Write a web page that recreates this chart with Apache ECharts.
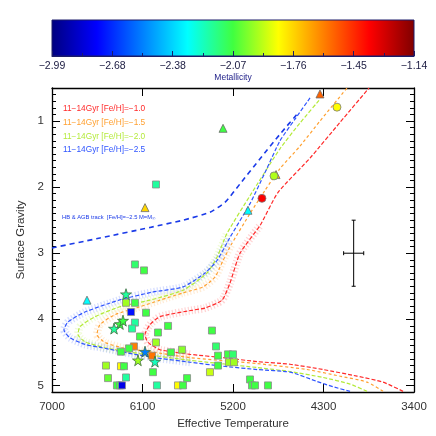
<!DOCTYPE html>
<html><head><meta charset="utf-8">
<script src="https://cdn.jsdelivr.net/npm/echarts@6/dist/echarts.min.js"></script>
<style>html,body{margin:0;padding:0;background:#fff}#c{width:436px;height:436px}</style>
</head><body><div id="c"></div>
<script>
// ---------- data ----------
const tempTicks = [3400, 4300, 5200, 6100, 7000];
const cbLabels = ['-2.99','-2.68','-2.38','-2.07','-1.76','-1.45','-1.14'];
const fehMin = -2.99, fehMax = -1.14;
const isoLabels = ['11\u221214Gyr [Fe/H]=\u22121.0','11\u221214Gyr [Fe/H]=\u22121.5','11\u221214Gyr [Fe/H]=\u22122.0','11\u221214Gyr [Fe/H]=\u22122.5'];

// isochrones [Teff, logg]
const isoRed = [[3509,5.09],[3708,4.95],[3967,4.86],[4305,4.76],[4633,4.68],[4961,4.64],[5299,4.58],[5628,4.53],[5926,4.46],[6045,4.35],[6075,4.23],[6025,4.08],[5926,3.96],[5598,3.86],[5478,3.83],[5309,3.71],[5230,3.45],[5130,3.00],[4931,2.58],[4752,2.08],[4434,1.56],[4136,1.02],[3847,0.50]];
const isoOrange = [[3708,5.09],[3867,4.95],[4136,4.86],[4464,4.76],[4961,4.67],[5628,4.58],[6025,4.49],[6275,4.44],[6473,4.35],[6553,4.23],[6523,4.08],[6374,3.93],[6125,3.81],[5926,3.71],[5697,3.60],[5498,3.51],[5379,3.36],[5299,3.11],[5210,2.85],[5031,2.40],[4882,2.05],[4733,1.72],[4534,1.38],[4335,1.00],[4066,0.50]];
const isoGreen = [[3867,5.09],[4036,4.98],[4305,4.88],[4633,4.79],[4961,4.73],[5628,4.62],[6125,4.52],[6473,4.43],[6672,4.34],[6741,4.23],[6722,4.11],[6572,3.96],[6324,3.81],[6025,3.71],[5697,3.56],[5459,3.30],[5359,3.06],[5260,2.70],[5031,2.13],[4733,1.42],[4534,1.03],[4335,0.67]];
const isoBlue = [[4036,5.09],[4206,5.02],[4365,4.94],[4633,4.80],[4961,4.76],[5299,4.71],[5628,4.65],[5926,4.59],[6175,4.53],[6503,4.43],[6672,4.38],[6821,4.28],[6881,4.16],[6841,4.04],[6672,3.89],[6334,3.71],[6006,3.59],[5697,3.51],[5478,3.30],[5359,3.11],[5230,2.76],[5031,2.25],[4882,1.78],[4733,1.30],[4583,0.97],[4434,0.65]];
const hbTrack = [[7000,2.92],[6523,2.77],[6025,2.61],[5697,2.50],[5429,2.38],[5280,2.23],[5130,1.95],[4931,1.57],[4733,1.20],[4554,0.88]];
const hbLabel = 'HB & AGB track  [Fe/H]=\u22122.5 M=M';

// stars [Teff, logg, [Fe/H]]
const squares = [[5966,1.96,-2.18],[6175,3.17,-2.12],[6085,3.26,-2.07],[6264,3.75,-1.95],[6175,3.75,-2.07],[6214,3.89,-2.73],[6065,3.90,-2.07],[6175,4.05,-2.18],[6204,4.14,-2.18],[6125,4.26,-2.07],[5946,4.20,-2.07],[5846,4.10,-2.07],[5966,4.35,-1.95],[6185,4.41,-1.60],[6006,4.55,-1.58],[6314,4.49,-2.07],[6234,4.44,-2.07],[5817,4.50,-2.07],[5707,4.46,-1.98],[6463,4.70,-1.95],[6314,4.71,-1.83],[6284,4.71,-2.07],[6443,4.89,-2.02],[6264,4.88,-2.18],[6354,5.00,-2.07],[6324,5.00,-2.07],[6304,5.00,-2.80],[5996,4.80,-2.07],[5956,5.00,-2.18],[5747,5.00,-1.83],[5697,5.00,-2.07],[5657,4.89,-2.07],[5409,4.17,-2.07],[5369,4.41,-2.12],[5349,4.55,-2.07],[5250,4.53,-2.07],[5200,4.53,-2.12],[5240,4.65,-1.95],[5190,4.65,-1.95],[5349,4.70,-2.07],[5429,4.80,-1.90],[5031,4.91,-2.07],[5011,5.00,-2.07],[4981,5.00,-2.07],[4852,5.00,-2.07]];
const starPts = [[6264,3.62,-2.18],[6324,4.07,-2.07],[6294,4.02,-2.07],[6383,4.14,-2.18],[6075,4.49,-2.53],[6145,4.62,-1.95],[5976,4.64,-2.22]];
const triangles = [[5299,1.11,-2.07],[4335,0.59,-1.55],[6075,2.31,-1.76],[5051,2.35,-2.30],[4772,1.81,-1.70],[6652,3.71,-2.30]];
const circles = [[4166,0.79,-1.83],[4792,1.83,-1.93],[4912,2.17,-1.37]];
// typical error [Teff, logg, dTeff, dlogg]
const errorBar = [[4000,3.0,100,0.5]];

// ---------- chart ----------
const palette = ['#00007f','#0000ff','#007fff','#00ffff','#40ff40','#ffff00','#ff7f00','#ff0000','#7f0000'];
const FONT = 'Liberation Sans';
const chart = echarts.init(document.getElementById('c'), null, {renderer:'canvas'});
const starPath = 'path://M50,0 L61,35 L98,35 L68,57 L79,91 L50,70 L21,91 L32,57 L2,35 L39,35 Z';
const isoColors = ['#ff2a2a','#ffa030','#b4ea3a','#2f55ff'];
const isoSets = [isoRed, isoOrange, isoGreen, isoBlue];
const bandSlices = [[7,19],[5,19],[5,18],[6,21]];

const series = [];
isoSets.forEach((d,i)=>{
  series.push({type:'line', xAxisIndex:0, yAxisIndex:0, data:d.slice(bandSlices[i][0], bandSlices[i][1]), symbol:'none', smooth:0.2,
    lineStyle:{color:isoColors[i], width:8, opacity:0.2, type:[1.2,2]}, z:1, silent:true});
});
isoSets.forEach((d,i)=>{
  series.push({type:'line', xAxisIndex:0, yAxisIndex:0, data:d, symbol:'none', smooth:0.2,
    lineStyle:{color:isoColors[i], width:1.2, type: i===1 ? [3,2.5] : [4,2]}, z:2, silent:true});
});
series.push({type:'line', data:hbTrack, symbol:'none', smooth:0.2, lineStyle:{color:'#1a3ae8', width:1.6, type:[5,4]}, z:3, silent:true});
const sc = (data, symbol, size, bc) => ({type:'scatter', data, symbol, symbolSize:size, itemStyle:{borderColor:bc, borderWidth:0.8, opacity:1}, z:5});
series.push(sc(squares,'rect',7,'#8c8c8c'));
series.push(sc(starPts,starPath,11,'#3d6b3d'));
series.push(sc(triangles,'triangle',8,'#6b6b6b'));
series.push(sc(circles,'circle',8,'#7a7a7a'));
series.push({type:'custom', data:errorBar, z:6, renderItem:(p,api)=>{
  const x=api.value(0), y=api.value(1), dx=api.value(2), dy=api.value(3);
  const l=api.coord([x+dx,y]), r=api.coord([x-dx,y]), t=api.coord([x,y-dy]), b=api.coord([x,y+dy]);
  const st={stroke:'#000', lineWidth:1};
  return {type:'group', children:[
    {type:'line', shape:{x1:l[0],y1:l[1],x2:r[0],y2:r[1]}, style:st},
    {type:'line', shape:{x1:t[0],y1:t[1],x2:b[0],y2:b[1]}, style:st},
    {type:'line', shape:{x1:t[0]-2,y1:t[1],x2:t[0]+2,y2:t[1]}, style:st},
    {type:'line', shape:{x1:b[0]-2,y1:b[1],x2:b[0]+2,y2:b[1]}, style:st},
    {type:'line', shape:{x1:l[0],y1:l[1]-2,x2:l[0],y2:l[1]+2}, style:st},
    {type:'line', shape:{x1:r[0],y1:r[1]-2,x2:r[0],y2:r[1]+2}, style:st}
  ]};
}});

const axisLine = {show:true, lineStyle:{color:'#000', width:1.3}};
const tickIn = (len)=>({show:true, inside:true, length:len, lineStyle:{color:'#000', width:1}});
const yBase = {gridIndex:0, type:'value', min:0.5, max:5.1, inverse:true, splitLine:{show:false}};

const gradStops = palette.map((c,i)=>({offset:i/(palette.length-1), color:c}));

chart.setOption({
  animation:false,
  textStyle:{fontFamily:FONT},
  grid:[
    {left:52, right:22, top:88, bottom:44, show:false},
    {left:52, right:22, top:20, height:36, show:true, borderColor:'#1c1c6a', borderWidth:1,
      backgroundColor:{type:'linear', x:0, y:0, x2:1, y2:0, colorStops:gradStops}}
  ],
  xAxis:[
    {gridIndex:0, type:'value', min:tempTicks[0], max:tempTicks[tempTicks.length-1], interval:900, inverse:true, position:'bottom',
      axisLine, axisTick:tickIn(8), splitLine:{show:false},
      axisLabel:{margin:9, fontSize:11.5, color:'#333', fontFamily:FONT, formatter:v=>String(v)},
      name:'Effective Temperature', nameLocation:'middle', nameGap:24, nameTextStyle:{fontSize:11.5, color:'#333', fontFamily:FONT}},
    {gridIndex:0, type:'value', min:tempTicks[0], max:tempTicks[tempTicks.length-1], interval:900, inverse:true, position:'top',
      axisLine, axisTick:tickIn(8), axisLabel:{show:false}, splitLine:{show:false}},
    {gridIndex:1, type:'value', min:0, max:6, interval:1, position:'bottom',
      axisLine:{show:true, lineStyle:{color:'#1c1c6a', width:1}},
      axisTick:{show:true, inside:true, length:5, lineStyle:{color:'#1c1c6a'}},
      minorTick:{show:true, splitNumber:2, length:3, lineStyle:{color:'#1c1c6a'}},
      splitLine:{show:false},
      axisLabel:{margin:5, fontSize:10.5, color:'#1a1a40', fontFamily:FONT, formatter:v=>cbLabels[Math.round(v)].replace('-','\u2212')},
      name:'Metallicity', nameLocation:'middle', nameGap:17, nameTextStyle:{fontSize:8.5, color:'#22228a', fontFamily:FONT}}
  ],
  yAxis:[
    Object.assign({}, yBase, {position:'left', splitNumber:5, axisLine, axisTick:tickIn(8),
      axisLabel:{margin:8, fontSize:11.5, color:'#333', fontFamily:FONT, showMinLabel:false, showMaxLabel:false,
        formatter:v=>Math.abs(v-Math.round(v))<1e-6 ? String(Math.round(v)) : ''},
      name:'Surface Gravity', nameLocation:'middle', nameGap:23, nameRotate:90, nameTextStyle:{fontSize:11.5, color:'#333', fontFamily:FONT}}),
    Object.assign({}, yBase, {position:'right', splitNumber:5, axisLine, axisTick:tickIn(8), axisLabel:{show:false}}),
    Object.assign({}, yBase, {position:'left', interval:0.1, axisLine:{show:false}, axisTick:tickIn(4), axisLabel:{show:false}}),
    Object.assign({}, yBase, {position:'right', interval:0.1, axisLine:{show:false}, axisTick:tickIn(4), axisLabel:{show:false}}),
    {gridIndex:1, type:'value', min:0, max:1, show:false}
  ],
  visualMap:{type:'continuous', show:false, dimension:2, min:fehMin, max:fehMax, seriesIndex:[9,10,11,12], inRange:{color:palette}},
  graphic:[
    ...isoLabels.map((t,i)=>({type:'text', left:63, top:105+i*13.7, style:{text:t, fill:isoColors[i], font:'8.3px "'+FONT+'"'}})),
    {type:'text', left:62, top:214, style:{text:'{a|'+hbLabel+'}{b|\u2609}', rich:{a:{fontSize:5.8, fill:'#1a3ae8', fontFamily:FONT}, b:{fontSize:4, fill:'#1a3ae8', padding:[4,0,0,0]}}}}
  ],
  series
});
</script></body></html>
